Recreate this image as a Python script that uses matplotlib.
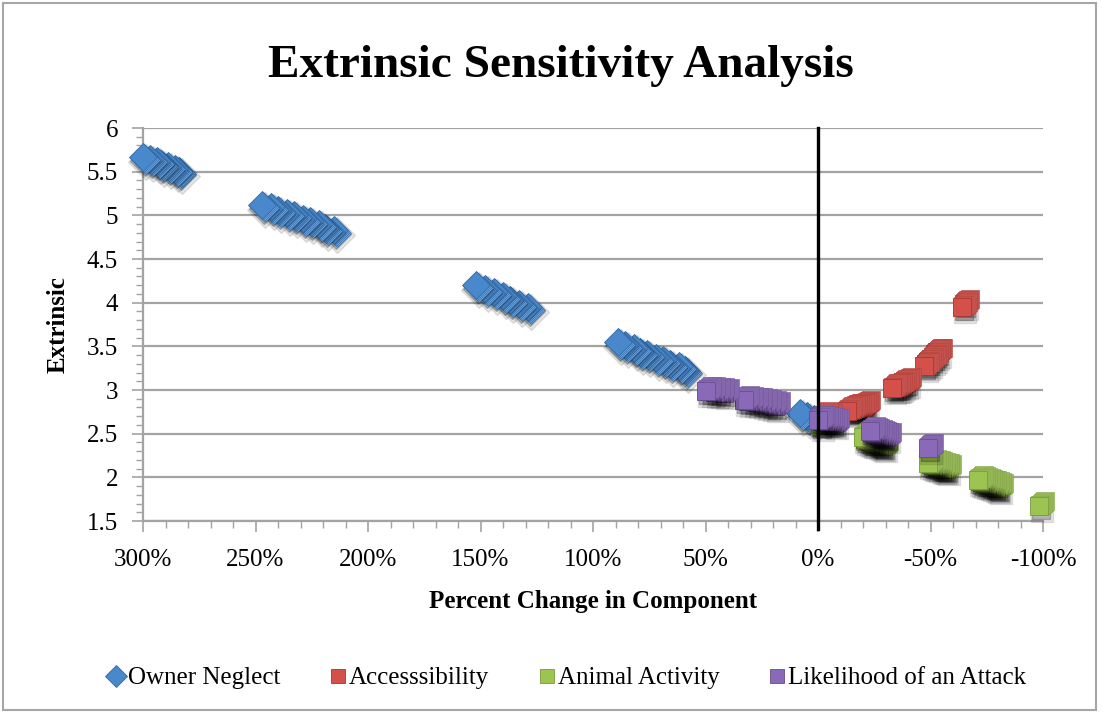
import matplotlib
matplotlib.use('Agg')
import matplotlib.pyplot as plt
import matplotlib.ticker as ticker
import matplotlib.transforms as mtransforms
from matplotlib.lines import Line2D
from matplotlib.patches import Rectangle

# Percent change (as a fraction) and resulting extrinsic score, per component
owner_x = [0.02, 0.05, 0.08,
           0.59, 0.62, 0.66, 0.69, 0.72, 0.76, 0.79, 0.82, 0.86, 0.89,
           1.29, 1.33, 1.37, 1.40, 1.44, 1.48, 1.52,
           2.15, 2.19, 2.22, 2.26, 2.29, 2.33, 2.36, 2.40, 2.43, 2.47,
           2.84, 2.86, 2.89, 2.92, 2.94, 2.97, 3.00]
owner_y = [2.67, 2.70, 2.74,
           3.23, 3.27, 3.30, 3.34, 3.37, 3.41, 3.44, 3.48, 3.51, 3.55,
           3.95, 3.99, 4.03, 4.08, 4.12, 4.16, 4.20,
           4.83, 4.86, 4.90, 4.93, 4.96, 5.00, 5.03, 5.06, 5.09, 5.12,
           5.51, 5.53, 5.56, 5.59, 5.62, 5.64, 5.67]

access_x = [-0.65, -0.64,
            -0.53, -0.52, -0.51, -0.50, -0.49, -0.48, -0.47,
            -0.39, -0.38, -0.37, -0.36, -0.35, -0.34, -0.33,
            -0.21, -0.20, -0.19, -0.18, -0.17, -0.16, -0.15, -0.14, -0.13,
            -0.04, -0.02]
access_y = [3.99, 3.95,
            3.43, 3.41, 3.38, 3.35, 3.32, 3.30, 3.27,
            3.09, 3.08, 3.07, 3.05, 3.04, 3.03, 3.02,
            2.83, 2.82, 2.81, 2.80, 2.80, 2.79, 2.78, 2.77, 2.76,
            2.68, 2.70]

animal_x = [-0.98,
            -0.80, -0.79, -0.78, -0.77, -0.76, -0.75, -0.74, -0.73, -0.72, -0.71,
            -0.57, -0.56, -0.55, -0.54, -0.53, -0.52, -0.51, -0.50, -0.49,
            -0.29, -0.28, -0.27, -0.26, -0.25, -0.24, -0.23, -0.22, -0.21, -0.20,
            -0.01]
animal_y = [1.67,
            1.88, 1.89, 1.90, 1.91, 1.92, 1.93, 1.94, 1.95, 1.96, 1.97,
            2.10, 2.11, 2.11, 2.12, 2.13, 2.14, 2.14, 2.15, 2.16,
            2.36, 2.37, 2.38, 2.39, 2.40, 2.41, 2.42, 2.43, 2.44, 2.46,
            2.60]

likely_x = [-0.49,
            -0.30, -0.29, -0.28, -0.27, -0.26, -0.25, -0.24, -0.23,
            -0.07, -0.06, -0.05, -0.04, -0.03, -0.02, -0.01, 0.00,
            0.19, 0.21, 0.23, 0.25, 0.27, 0.29, 0.31, 0.33,
            0.42, 0.44, 0.46, 0.48, 0.50]
likely_y = [2.34,
            2.46, 2.47, 2.48, 2.49, 2.50, 2.51, 2.52, 2.53,
            2.62, 2.63, 2.64, 2.64, 2.65, 2.65, 2.66, 2.66,
            2.82, 2.83, 2.84, 2.85, 2.86, 2.87, 2.88, 2.89,
            2.97, 2.98, 2.98, 2.99, 2.99]

series = [
    ('Owner Neglect', owner_x, owner_y, 'D', 14.5, '#4a88cc', '#6fa6e0', '#2f6aa8'),
    ('Accesssibility', access_x, access_y, 's', 12.5, '#d4504a', '#e57a73', '#a8332f'),
    ('Animal Activity', animal_x, animal_y, 's', 12.5, '#9cc450', '#b8d97a', '#77993a'),
    ('Likelihood of an Attack', likely_x, likely_y, 's', 12.5, '#8a69b8', '#a88bd0', '#674a8f'),
]

x_ticks = [3.0, 2.5, 2.0, 1.5, 1.0, 0.5, 0.0, -0.5, -1.0]
y_ticks = [1.5, 2, 2.5, 3, 3.5, 4, 4.5, 5, 5.5, 6]

plt.rcParams['font.family'] = 'Liberation Serif'

fig = plt.figure(figsize=(11.02, 7.16), dpi=100)
fig.patches.append(Rectangle((0.003, 0.008), 0.992, 0.988, transform=fig.transFigure,
                             fill=False, edgecolor='#a6a6a6', linewidth=1.5))
ax = fig.add_axes([0.1298, 0.2723, 0.8167, 0.5489])

ax.set_xlim(3.0, -1.0)
ax.set_ylim(1.5, 6.0)

for y in y_ticks:
    ax.axhline(y, color='#a3a3a3', linewidth=1.6, zorder=1)


def offset(dx, dy):
    return mtransforms.offset_copy(ax.transData, fig=fig, x=dx, y=dy, units='dots')


# each marker gets a soft shadow, a short extruded body and a front face
for name, xs, ys, mk, ms, face, light, edge in series:
    for x, y in zip(xs, ys):
        ax.plot(x, y, marker=mk, markersize=ms + 4, color='black', alpha=0.10,
                linestyle='none', transform=offset(3, -5), zorder=3, clip_on=False)
        ax.plot(x, y, marker=mk, markersize=ms + 1, color='black', alpha=0.22,
                linestyle='none', transform=offset(2, -4), zorder=3, clip_on=False)
        if mk == 's':
            for d in range(6, 0, -1):
                ax.plot(x, y, marker=mk, markersize=ms, markerfacecolor=light,
                        markeredgecolor=edge, markeredgewidth=0.4, clip_on=False,
                        linestyle='none', transform=offset(d, d * 0.8), zorder=3)
        else:
            for d in range(3, 0, -1):
                ax.plot(x, y, marker=mk, markersize=ms, markerfacecolor=light,
                        markeredgecolor=edge, markeredgewidth=0.4, clip_on=False,
                        linestyle='none', transform=offset(d, -d), zorder=3)
        ax.plot(x, y, marker=mk, markersize=ms, markerfacecolor=face, clip_on=False,
                markeredgecolor=edge, markeredgewidth=0.6, linestyle='none', zorder=3)

ax.axvline(0, ymin=-0.02, ymax=1.0, color='black', linewidth=2.4, zorder=4, clip_on=False)

ax.xaxis.set_major_locator(ticker.FixedLocator(x_ticks))
ax.xaxis.set_minor_locator(ticker.MultipleLocator(0.1))
ax.xaxis.set_major_formatter(ticker.FuncFormatter(lambda v, p: f'{int(round(v * 100))}%'))
ax.yaxis.set_major_locator(ticker.FixedLocator(y_ticks))
ax.yaxis.set_minor_locator(ticker.MultipleLocator(0.1))
ax.yaxis.set_major_formatter(ticker.FuncFormatter(lambda v, p: f'{v:g}'))

for side in ['top', 'right']:
    ax.spines[side].set_visible(False)
for side in ['left', 'bottom']:
    ax.spines[side].set_color('#a3a3a3')
    ax.spines[side].set_linewidth(1.6)

ax.tick_params(axis='both', which='major', length=8, width=1.2, color='#a3a3a3',
               labelsize=18, direction='out')
ax.tick_params(axis='both', which='minor', length=5, width=1.0, color='#a3a3a3', direction='out')
ax.tick_params(axis='x', pad=12)
ax.tick_params(axis='y', pad=10)

ax.set_xlabel('Percent Change in Component', fontsize=18, fontweight='bold', labelpad=14)
ax.set_ylabel('Extrinsic', fontsize=18, fontweight='bold', labelpad=12)
fig.text(0.509, 0.908, 'Extrinsic Sensitivity Analysis', fontsize=34, fontweight='bold',
         ha='center', va='center')

handles = [Line2D([], [], marker=mk, markersize=ms * 0.8, linestyle='none',
                  markerfacecolor=face, markeredgecolor=edge, markeredgewidth=0.6)
           for name, xs, ys, mk, ms, face, light, edge in series]
fig.legend(handles, [s[0] for s in series], loc='center', bbox_to_anchor=(0.514, 0.053),
           ncol=4, frameon=False, fontsize=18, handletextpad=0.05, columnspacing=1.9,
           handlelength=0.8)

fig.savefig('out.png', dpi=100)
